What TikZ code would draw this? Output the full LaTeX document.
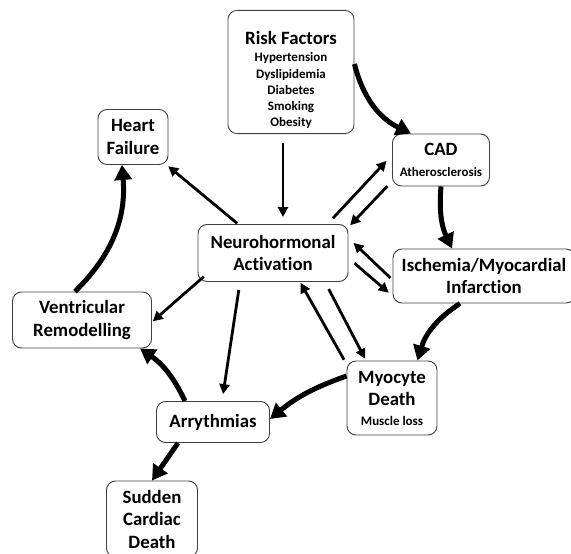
\documentclass[tikz,border=0pt]{standalone}
\usepackage{fontspec}
\setmainfont{Carlito}[Ligatures=NoCommon]
\usetikzlibrary{arrows.meta,calc}
\newcommand\smf{\fontsize{13}{16.2}\selectfont}
\begin{document}
\begin{tikzpicture}[x=1pt,y=-1pt,
  box/.style={draw=black!75,line width=0.9pt,rounded corners=9pt,fill=white,align=center,
    font=\fontsize{18.8}{22.5}\selectfont\bfseries,inner sep=2pt},
  lnk/.style={line width=2.8pt,-{Triangle[length=10pt,width=10pt]}},
  cyc/.style={line width=5pt,-{Triangle[length=15pt,width=17pt]}}]
\useasboundingbox (0,0) rectangle (571,554);
\node[box,minimum width=126pt,minimum height=117pt] (risk) at (291,72)
  {\rule{0pt}{32pt}Risk Factors\\[-5pt]\smf\begin{tabular}[t]{@{}c@{}}Hypertension\\Dyslipidemia\\Diabetes\\Smoking\\Obesity\end{tabular}};
\node[box,minimum width=70pt,minimum height=55pt] (hf) at (133,137) {Heart\\Failure};
\node[box,minimum width=97pt,minimum height=52pt] (cad) at (441,160) {CAD\\[-2pt]\smf Atherosclerosis};
\node[box,minimum width=150pt,minimum height=57pt] (na) at (273,253) {Neurohormonal\\Activation};
\node[box,minimum width=182pt,minimum height=54pt] (isch) at (484,276) {Ischemia/Myocardial\\Infarction};
\node[box,minimum width=139pt,minimum height=56pt] (vr) at (82,320) {Ventricular\\Remodelling};
\node[box,minimum width=90pt,minimum height=74pt] (myo) at (392,398) {Myocyte\\Death\\[-3pt]\smf Muscle loss};
\node[box,minimum width=113pt,minimum height=41pt] (arr) at (213,422) {Arrythmias};
\node[box,minimum width=91pt,minimum height=76pt] (scd) at (152,519) {Sudden\\Cardiac\\Death};

% thin arrows
\draw[lnk,shorten <=9pt,shorten >=7pt] ([xshift=-8pt]risk.south) -- ([xshift=10pt]na.north);
\draw[lnk,shorten <=1pt,shorten >=2pt] (na) -- (hf);
\draw[lnk,shorten <=1pt,shorten >=1pt] ([shift={(7pt,6pt)}]na.south west) -- ([yshift=-2pt]vr.east);
\draw[lnk,shorten <=8pt,shorten >=7pt] ([xshift=-33pt]na.south) -- ([xshift=9pt]arr.north);
\draw[lnk,shorten <=8pt,shorten >=8pt] ([xshift=-21pt]na.north east) -- ([yshift=5pt]cad.west);
\draw[lnk,shorten <=1pt,shorten >=1pt] ([shift={(-4pt,1pt)}]cad.south west) -- ([shift={(1pt,-2pt)}]na.north east);
\draw[lnk,shorten <=8pt,shorten >=5pt] ([yshift=-5pt]na.east) -- ([yshift=-20pt]isch.west);
\draw[lnk,shorten <=3pt,shorten >=7pt] ([yshift=-4pt]isch.west) -- ([yshift=15pt]na.east);
\draw[lnk,shorten <=1pt,shorten >=1pt] ([xshift=-2pt]myo.north west) -- ([xshift=27pt]na.south);
\draw[lnk,shorten <=8pt,shorten >=2pt] ([xshift=52pt]na.south) -- ([xshift=-26pt]myo.north);

% thick cycle
\draw[cyc] ([yshift=8pt]risk.east) to[bend right=25] ([xshift=-30pt]cad.north);
\draw[cyc] (cad.south) to[bend right=15] ([xshift=-32pt]isch.north);
\draw[cyc] ([xshift=-24pt]isch.south) to[bend right=20] ([xshift=-20pt]myo.north east);
\draw[cyc] ([yshift=22pt]myo.west) to[bend right=10] ([yshift=3pt]arr.east);
\draw[cyc] ([xshift=-28pt]arr.north) to[bend right=15] ([xshift=58pt]vr.south);
\draw[cyc] ([xshift=-7pt]vr.north) to[bend right=25] ([xshift=-11pt]hf.south);
\draw[cyc] ([xshift=-35pt]arr.south) -- (scd.north);
\end{tikzpicture}
\end{document}
